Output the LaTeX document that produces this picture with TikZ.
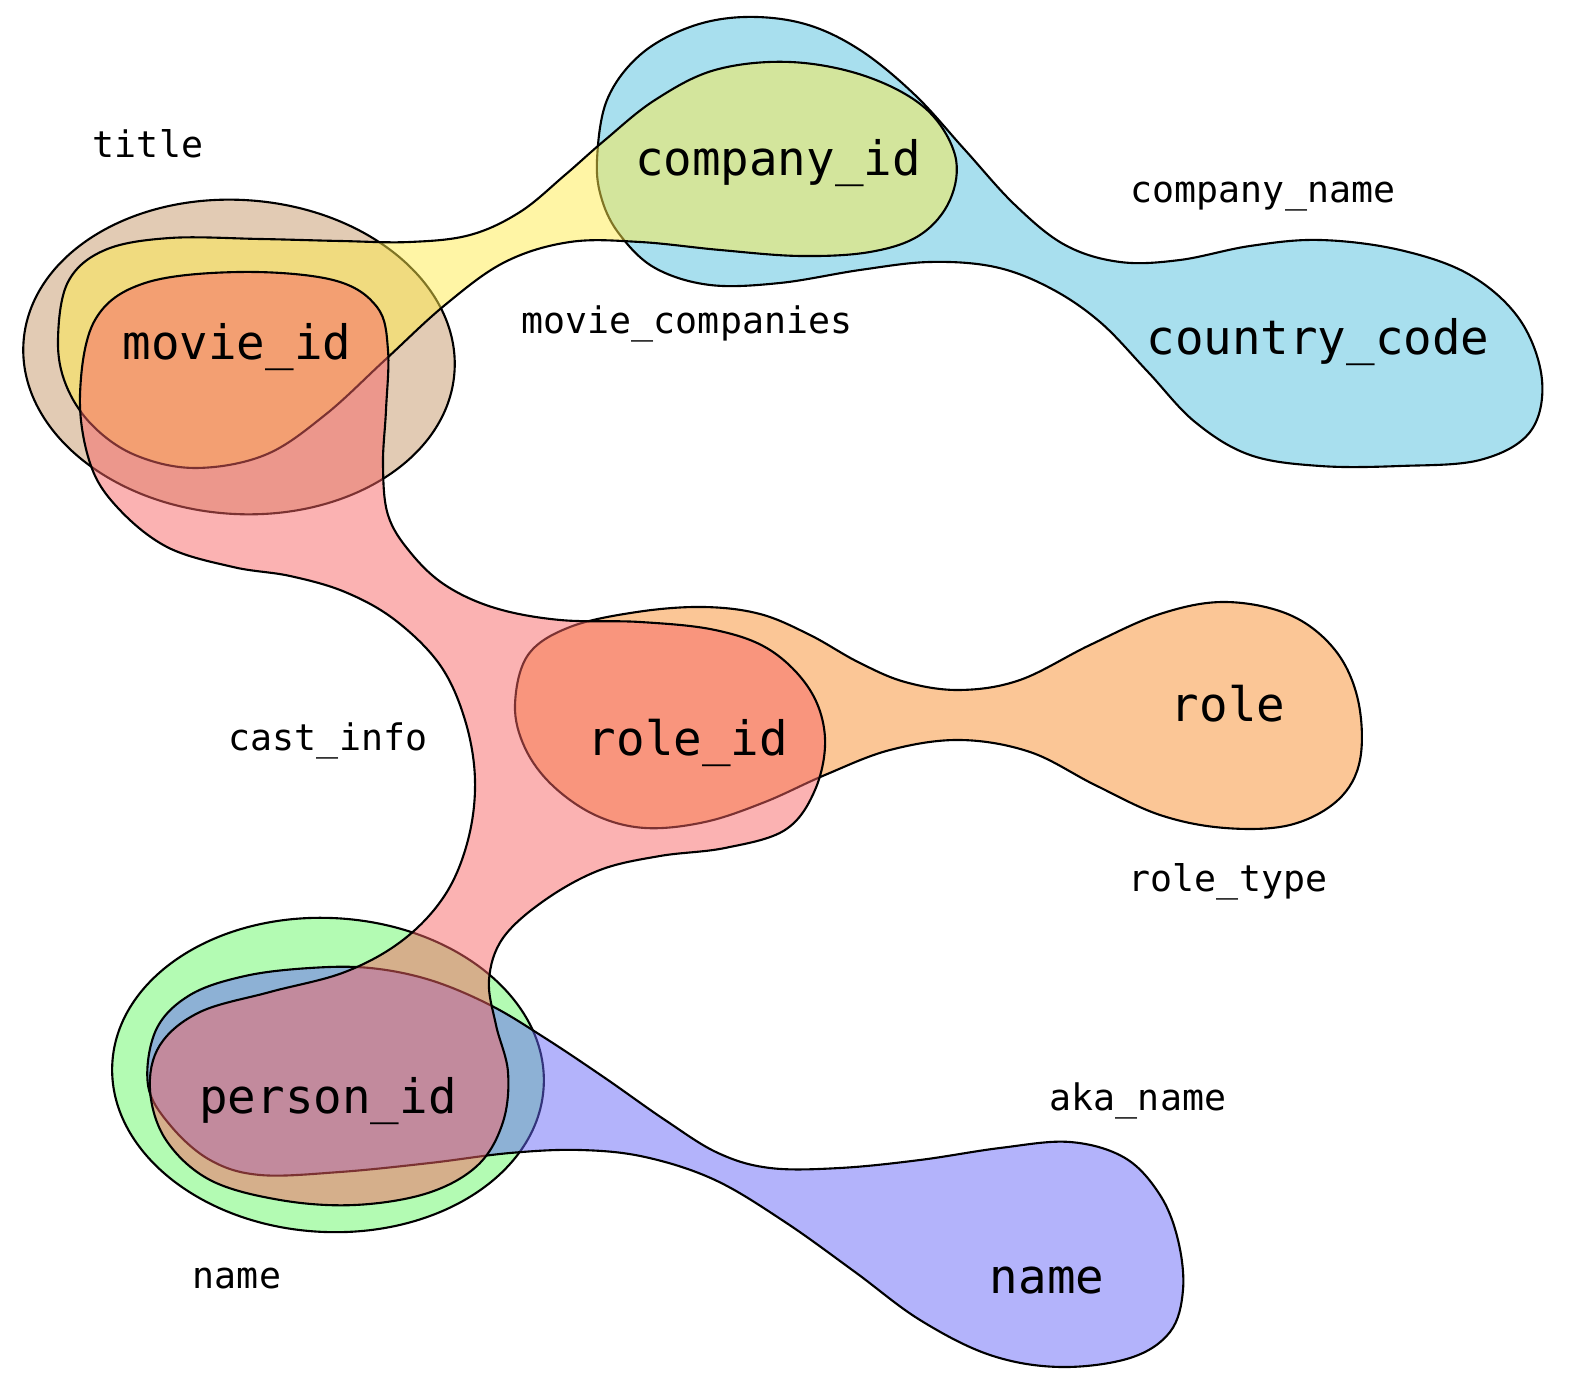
\documentclass[tikz,border=0pt]{standalone}
\usepackage{fontspec}
\newfontfamily\monofont{DejaVu Sans Mono}
\definecolor{cname}{RGB}{81,191,221}
\definecolor{ctitle}{RGB}{197,151,105}
\definecolor{cmc}{RGB}{255,235,75}
\definecolor{crt}{RGB}{247,141,45}
\definecolor{cci}{RGB}{247,101,101}
\definecolor{cnm}{RGB}{103,247,103}
\definecolor{caka}{RGB}{103,103,247}
\tikzset{he/.style = {draw=black, line width=0.6pt, fill=#1, fill opacity=0.5},
         vx/.style = {anchor=base, inner sep=0pt, font=\monofont\fontsize{13.5}{16}\selectfont},
         ed/.style = {anchor=base, inner sep=0pt, font=\monofont\fontsize{10.4}{12}\selectfont}}

\begin{document}
\begin{tikzpicture}[x=0.01cm, y=-0.01cm]
    \useasboundingbox (0,0) rectangle (1590,1398);
    \draw[he=cname] plot[smooth cycle, tension=0.6] coordinates {(597,160) (607,100) (640,55) (690,27) (745,17) (805,24) (860,50) (915,95) (965,150) (1015,205) (1065,245) (1120,262) (1180,260) (1250,246) (1320,240) (1400,250) (1470,275) (1520,320) (1542,380) (1530,432) (1480,460) (1400,466) (1320,466) (1250,455) (1195,422) (1148,372) (1100,322) (1050,288) (995,267) (930,262) (860,270) (780,283) (710,285) (655,268) (620,235) (602,200)};
    \draw[he=ctitle] (239,357) ellipse [x radius=216, y radius=157, rotate=-4];
    \draw[he=cmc] plot[smooth cycle, tension=0.6] coordinates {(58,340) (68,282) (105,250) (170,238) (260,239) (340,241) (410,242) (470,235) (520,212) (565,175) (605,140) (655,100) (715,70) (790,62) (865,76) (925,108) (955,155) (950,200) (920,235) (870,252) (800,256) (720,250) (640,242) (570,242) (505,262) (445,305) (385,360) (325,415) (265,455) (195,468) (135,455) (92,425) (66,385)};
    \draw[he=crt] plot[smooth cycle, tension=0.6] coordinates {(515,705) (528,655) (570,627) (637,612) (703,607) (760,614) (810,635) (858,662) (905,682) (960,690) (1020,680) (1090,645) (1160,614) (1225,602) (1290,615) (1335,650) (1358,700) (1360,760) (1338,800) (1290,825) (1225,828) (1160,815) (1095,785) (1030,752) (960,740) (890,750) (825,775) (765,802) (705,822) (645,828) (595,815) (552,785) (525,748)};
    \draw[he=cnm] (328,1075) ellipse [x radius=216, y radius=157, rotate=-3];
    \draw[he=caka] plot[smooth cycle, tension=0.6] coordinates {(148,1085) (156,1030) (190,995) (245,976) (310,968) (370,968) (430,980) (490,1005) (545,1038) (605,1078) (665,1120) (718,1153) (770,1168) (840,1168) (920,1160) (1000,1148) (1070,1142) (1125,1158) (1160,1195) (1178,1240) (1183,1290) (1170,1332) (1130,1358) (1060,1367) (990,1355) (920,1320) (855,1272) (785,1222) (715,1180) (645,1157) (580,1150) (510,1153) (430,1163) (340,1172) (260,1175) (210,1160) (170,1125)};
    \draw[he=cci] plot[smooth cycle, tension=0.6] coordinates {(80,395) (95,320) (145,283) (240,272) (333,280) (377,307) (388,350) (386,410) (383,465) (388,515) (410,552) (445,585) (495,608) (560,620) (640,622) (715,630) (770,650) (810,690) (825,738) (815,790) (785,830) (725,848) (660,856) (600,870) (545,900) (503,938) (489,980) (496,1025) (508,1072) (503,1122) (478,1165) (428,1193) (355,1205) (280,1200) (210,1180) (166,1140) (150,1090) (160,1045) (200,1012) (270,992) (345,972) (403,940) (445,895) (468,840) (475,780) (465,720) (440,665) (395,620) (345,592) (290,576) (233,567) (167,547) (117,507) (90,463)};
    \node[vx] (mid) at (237,360) {movie\_id};
    \node[vx] (cid) at (778,176) {company\_id};
    \node[vx] (cc) at (1318,355) {country\_code};
    \node[vx] (rid) at (688,756) {role\_id};
    \node[vx] (rl) at (1228,722) {role};
    \node[vx] (pid) at (328,1114) {person\_id};
    \node[vx] (nm) at (1047,1294) {name};
    \node[ed] (title) at (148,158) {title};
    \node[ed] (compname) at (1263,203) {company\_name};
    \node[ed] (moviecomp) at (687,334) {movie\_companies};
    \node[ed] (castinfo) at (328,751) {cast\_info};
    \node[ed] (roletype) at (1228,892) {role\_type};
    \node[ed] (akaname) at (1138,1111) {aka\_name};
    \node[ed] (name) at (237,1289) {name};
\end{tikzpicture}
\end{document}
